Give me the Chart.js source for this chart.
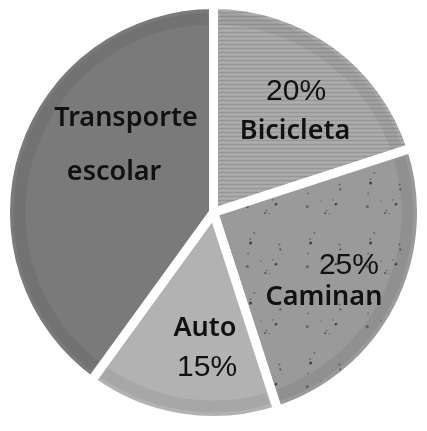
<!DOCTYPE html>
<html lang="es">
<head>
  <meta charset="UTF-8">
  <title>Transporte</title>
  <script src="https://cdn.jsdelivr.net/npm/chart.js"></script>
  <style>
    html, body { margin: 0; background: #fff; }
    #wrap { width: 427px; height: 431px; }
  </style>
</head>
<body>
  <div id="wrap"><canvas id="pie"></canvas></div>

  <script>
    // datos
    const categorias = ['Bicicleta', 'Caminan', 'Auto', 'Transporte escolar'];
    const porcentajes = [20, 25, 15, 40];
    const etiquetas = [
      ['20%', 'Bicicleta'],
      ['25%', 'Caminan'],
      ['Auto', '15%'],
      ['Transporte', 'escolar']
    ];

    // estilo
    const colores = ['#a7a7a7', '#9a9a9a', '#b2b2b2', '#7a7a7a'];
    const fuenteTexto = '600 27px "Comic Sans MS", "Noto Sans", sans-serif';
    const fuentePct = '30px "Liberation Sans", Arial, sans-serif';
    // posición de cada línea relativa al centro, en fracciones del radio
    const posEtiquetas = [
      [[0.397, -0.579], [0.392, -0.392]],
      [[0.651, 0.257], [0.531, 0.406]],
      [[-0.041, 0.555], [-0.031, 0.748]],
      [[-0.421, -0.454], [-0.478, -0.195]]
    ];

    function rayas(base) {
      const c = document.createElement('canvas');
      c.width = 8; c.height = 4;
      const g = c.getContext('2d');
      g.fillStyle = base; g.fillRect(0, 0, 8, 4);
      g.fillStyle = 'rgba(0,0,0,0.10)'; g.fillRect(0, 0, 8, 1);
      g.fillStyle = 'rgba(255,255,255,0.08)'; g.fillRect(0, 2, 8, 1);
      return g.createPattern(c, 'repeat');
    }

    function puntos(base) {
      const c = document.createElement('canvas');
      c.width = 60; c.height = 60;
      const g = c.getContext('2d');
      g.fillStyle = base; g.fillRect(0, 0, 60, 60);
      let s = 7;
      const next = () => { s = (s * 9301 + 49297) % 233280; return s / 233280; };
      for (let i = 0; i < 14; i++) {
        const x = next() * 60, y = next() * 60, r = 0.5 + next() * 1.1;
        g.fillStyle = 'rgba(40,40,40,' + (0.35 + next() * 0.4) + ')';
        g.beginPath(); g.arc(x, y, r, 0, Math.PI * 2); g.fill();
      }
      return g.createPattern(c, 'repeat');
    }

    const fondos = [rayas(colores[0]), puntos(colores[1]), colores[2], colores[3]];

    const bordeYTexto = {
      id: 'bordeYTexto',
      afterDatasetsDraw(chart) {
        const ctx = chart.ctx;
        const arcs = chart.getDatasetMeta(0).data;
        ctx.save();
        arcs.forEach((arc, i) => {
          const p = arc.getProps(['x', 'y', 'startAngle', 'endAngle', 'outerRadius']);
          // banda oscura junto al borde exterior
          ctx.beginPath();
          ctx.arc(p.x, p.y, p.outerRadius - 14, p.startAngle + 0.03, p.endAngle - 0.03);
          ctx.strokeStyle = 'rgba(0,0,0,0.06)';
          ctx.lineWidth = 12;
          ctx.stroke();
        });
        ctx.textAlign = 'center';
        ctx.textBaseline = 'middle';
        ctx.fillStyle = '#111111';
        arcs.forEach((arc, i) => {
          const p = arc.getProps(['x', 'y', 'outerRadius']);
          etiquetas[i].forEach((t, j) => {
            ctx.font = t.includes('%') ? fuentePct : fuenteTexto;
            const [fx, fy] = posEtiquetas[i][j];
            ctx.fillText(t, p.x + fx * p.outerRadius, p.y + fy * p.outerRadius);
          });
        });
        ctx.restore();
      }
    };

    new Chart(document.getElementById('pie'), {
      type: 'pie',
      data: {
        labels: categorias,
        datasets: [{
          data: porcentajes,
          backgroundColor: fondos,
          borderColor: '#ffffff',
          borderWidth: 9,
          hoverOffset: 0
        }]
      },
      options: {
        responsive: true,
        maintainAspectRatio: false,
        animation: false,
        layout: { padding: { top: 0, bottom: 6, left: 0, right: 0 } },
        plugins: {
          legend: { display: false },
          tooltip: { enabled: false }
        }
      },
      plugins: [bordeYTexto]
    });
  </script>
</body>
</html>
